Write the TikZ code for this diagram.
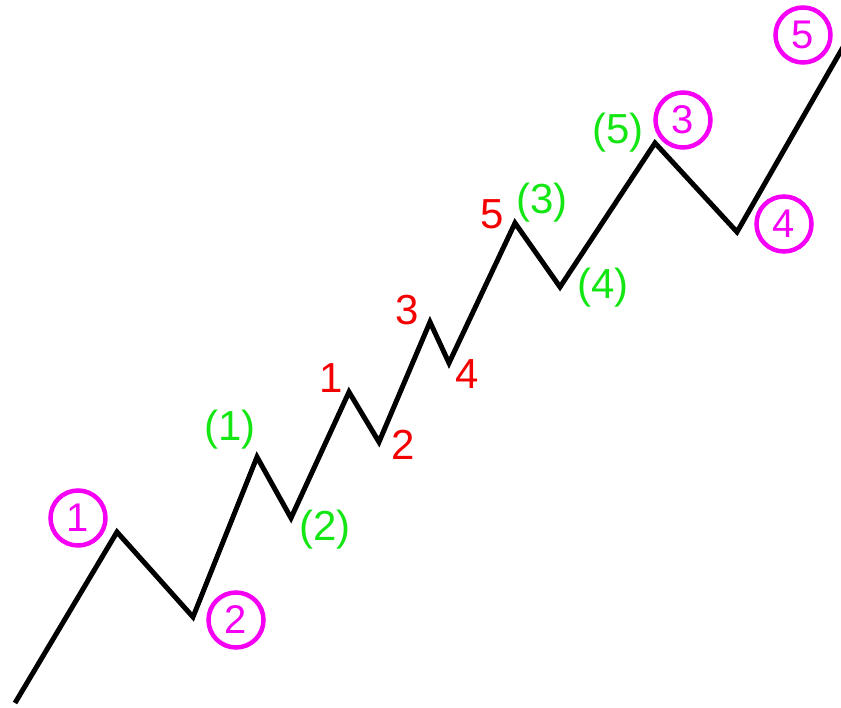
\documentclass[tikz,border=0pt]{standalone}
\usepackage{fontspec}
\setmainfont{Liberation Sans}
\definecolor{wavemagenta}{RGB}{245,0,245}
\definecolor{wavered}{RGB}{245,0,0}
\definecolor{wavegreen}{RGB}{20,230,20}

\begin{document}
\begin{tikzpicture}[x=1pt, y=-1pt,
  font=\fontsize{42}{46}\selectfont,
  every node/.style={align=center, inner sep=0pt},
  wave/.style={draw=black, line width=5pt, line join=miter},
  major/.style={draw=wavemagenta, text=wavemagenta, circle,
                line width=4.5pt, minimum size=55pt,
                font=\fontsize{40}{44}\selectfont},
  minor/.style={text=wavegreen},
  minute/.style={text=wavered}
]
\useasboundingbox (0,0) rectangle (841,708);

% turning points of the wave
\foreach \n/\x/\y in {0/15/703, 1/117/532, 2/193/617, 3/257/457, 4/291/518,
                      5/349/392, 6/379/442, 7/430/322, 8/449/363, 9/515/223,
                      10/560/287, 11/655/143, 12/737/232, 13/846/42}
  \coordinate (w\n) at (\x,\y);

\draw[wave] (w0) -- (w1) -- (w2) -- (w3) -- (w4) -- (w5) -- (w6)
  -- (w7) -- (w8) -- (w9) -- (w10) -- (w11) -- (w12) -- (w13);

% primary degree
\node[major] (p1) at (78,518) {1};
\node[major] (p2) at (236,620) {2};
\node[major] (p3) at (683,120) {3};
\node[major] (p4) at (784,224) {4};
\node[major] (p5) at (803,35) {5};

% intermediate degree
\node[minor] (i1) at (230,430) {(1)};
\node[minor] (i2) at (325,530) {(2)};
\node[minor] (i3) at (542,203) {(3)};
\node[minor] (i4) at (603,288) {(4)};
\node[minor] (i5) at (618,133) {(5)};

% minor degree
\node[minute] (m1) at (331,378) {1};
\node[minute] (m2) at (403,445) {2};
\node[minute] (m3) at (407,310) {3};
\node[minute] (m4) at (467,374) {4};
\node[minute] (m5) at (492,214) {5};
\end{tikzpicture}
\end{document}
